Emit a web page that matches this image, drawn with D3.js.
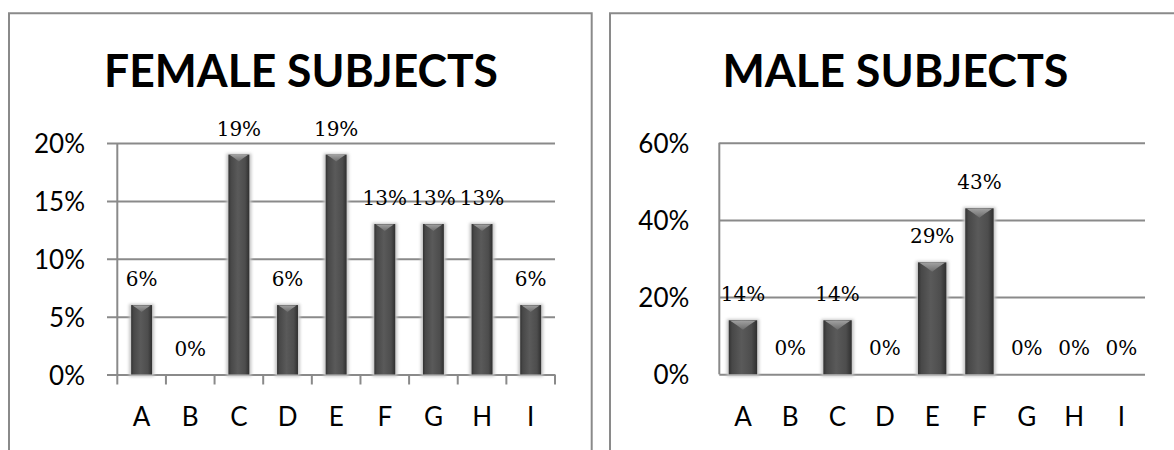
<!DOCTYPE html>
<html>
<head>
<meta charset="utf-8">
<script src="https://cdn.jsdelivr.net/npm/d3@7"></script>
<style>
  html, body { margin: 0; padding: 0; background: #fff; }
  svg { display: block; }
</style>
</head>
<body>
<div id="chart"></div>
<script>
const categories = ["A", "B", "C", "D", "E", "F", "G", "H", "I"];
const femaleValues = [6, 0, 19, 6, 19, 13, 13, 13, 6];
const maleValues = [14, 0, 14, 0, 29, 43, 0, 0, 0];
const femaleTicks = [0, 5, 10, 15, 20];
const maleTicks = [0, 20, 40, 60];
const femaleTitle = "FEMALE SUBJECTS";
const maleTitle = "MALE SUBJECTS";

const W = 1174, H = 450;
const svg = d3.select("#chart").append("svg").attr("width", W).attr("height", H);
const defs = svg.append("defs");

const grad = defs.append("linearGradient").attr("id", "barGrad").attr("x1", "0").attr("x2", "1").attr("y1", "0").attr("y2", "0");
[[0, "#323232"], [0.12, "#484848"], [0.45, "#5a5a5a"], [0.8, "#4d4d4d"], [1, "#2f2f2f"]]
  .forEach(([o, c]) => grad.append("stop").attr("offset", o).attr("stop-color", c));
const capGrad = defs.append("linearGradient").attr("id", "capGrad").attr("x1", "0").attr("x2", "0").attr("y1", "0").attr("y2", "1");
[[0, "#a8a8a8"], [1, "#6e6e6e"]].forEach(([o, c]) => capGrad.append("stop").attr("offset", o).attr("stop-color", c));
const blur = defs.append("filter").attr("id", "halo").attr("x", "-50%").attr("y", "-10%").attr("width", "200%").attr("height", "120%");
blur.append("feGaussianBlur").attr("stdDeviation", 1.6);

const GRID = "#8a8a8a";

function panel(opts) {
  const { values, ticks, title, left, right, top, bottom, gridLeft, labelGap,
          showTicks, barRatio, titleX, titleLen, border } = opts;
  const g = svg.append("g");

  // panel border (top, left and right edges; bottom runs off the picture)
  g.append("path").attr("d", border).attr("fill", "none").attr("stroke", GRID).attr("stroke-width", 2);

  const x = d3.scaleBand().domain(categories).range([left, right]).padding(0);
  const y = d3.scaleLinear().domain([0, d3.max(ticks)]).range([bottom, top]);

  // title
  g.append("text").attr("x", titleX).attr("y", 86.7).attr("text-anchor", "middle")
    .attr("font-family", "Lato, 'Open Sans', sans-serif").attr("font-weight", "bold")
    .attr("font-size", 46.5).attr("fill", "#000")
    .attr("textLength", titleLen).attr("lengthAdjust", "spacingAndGlyphs")
    .text(title);

  // y gridlines + labels
  const yAxis = d3.axisLeft(y).tickValues(ticks).tickFormat(d => d + "%")
    .tickSizeInner(-(right - gridLeft)).tickSizeOuter(0).tickPadding(labelGap);
  const ya = g.append("g").attr("transform", `translate(${gridLeft},0)`).call(yAxis);
  ya.select(".domain").remove();
  ya.selectAll(".tick line").attr("stroke", GRID).attr("stroke-width", 2);
  ya.selectAll(".tick text").attr("font-family", "Lato, sans-serif").attr("font-size", 26)
    .attr("fill", "#000").attr("dy", "0.37em");

  // vertical axis line
  g.append("line").attr("x1", left).attr("x2", left).attr("y1", top)
    .attr("y2", showTicks ? bottom + 10 : bottom).attr("stroke", GRID).attr("stroke-width", 2);

  // category tick marks (band boundaries)
  if (showTicks) {
    const bounds = categories.map(c => x(c)).concat([x.range()[1]]).slice(1);
    g.selectAll(".xt").data(bounds).enter().append("line")
      .attr("x1", d => d).attr("x2", d => d).attr("y1", bottom).attr("y2", bottom + 10)
      .attr("stroke", GRID).attr("stroke-width", 2);
  }

  // category labels
  const xAxis = d3.axisBottom(x).tickSize(0).tickPadding(33.5);
  const xa = g.append("g").attr("transform", `translate(0,${bottom})`).call(xAxis);
  xa.select(".domain").remove();
  xa.selectAll(".tick text").attr("font-family", "Lato, sans-serif").attr("font-size", 26).attr("fill", "#000");

  // bars
  const bw = x.bandwidth() * barRatio;
  const data = categories.map((c, i) => ({ c, v: values[i] }));
  const bars = g.selectAll(".bar").data(data.filter(d => d.v > 0)).enter().append("g");
  bars.append("rect")
    .attr("x", d => x(d.c) + (x.bandwidth() - bw) / 2 - 2)
    .attr("y", d => y(d.v) - 1)
    .attr("width", bw + 4)
    .attr("height", d => y(0) - y(d.v) + 3)
    .attr("fill", "#c4c4c4").attr("filter", "url(#halo)");
  bars.append("rect")
    .attr("x", d => x(d.c) + (x.bandwidth() - bw) / 2)
    .attr("y", d => y(d.v))
    .attr("width", bw)
    .attr("height", d => y(0) - y(d.v))
    .attr("fill", "url(#barGrad)");
  const capH = bw * 0.33;
  bars.append("path")
    .attr("d", d => {
      const x0 = x(d.c) + (x.bandwidth() - bw) / 2, x1 = x0 + bw, t = y(d.v);
      return `M${x0 + 1.5},${t + 0.5} L${x1 - 1.5},${t + 0.5} L${x1 - bw * 0.3},${t + capH * 0.55} L${(x0 + x1) / 2},${t + capH} L${x0 + bw * 0.3},${t + capH * 0.55} Z`;
    })
    .attr("fill", "url(#capGrad)").attr("opacity", 0.9);

  // value labels
  g.selectAll(".val").data(data).enter().append("text")
    .attr("x", d => x(d.c) + x.bandwidth() / 2)
    .attr("y", d => y(d.v) - 19)
    .attr("text-anchor", "middle")
    .attr("font-family", "'DejaVu Serif', serif").attr("font-size", 20).attr("fill", "#000")
    .text(d => d.v + "%");
}

panel({
  values: femaleValues, ticks: femaleTicks, title: femaleTitle,
  left: 117.3, right: 555, top: 143, bottom: 374.5, gridLeft: 107, labelGap: 22,
  showTicks: true, barRatio: 0.43, titleX: 301, titleLen: 394,
  border: "M9,452 V13.3 H591.7 V452"
});
panel({
  values: maleValues, ticks: maleTicks, title: maleTitle,
  left: 719.3, right: 1145, top: 142.7, bottom: 374.3, gridLeft: 719.3, labelGap: 30,
  showTicks: false, barRatio: 0.6, titleX: 895.4, titleLen: 346,
  border: "M610,452 V13.3 H1180"
});
</script>
</body>
</html>
